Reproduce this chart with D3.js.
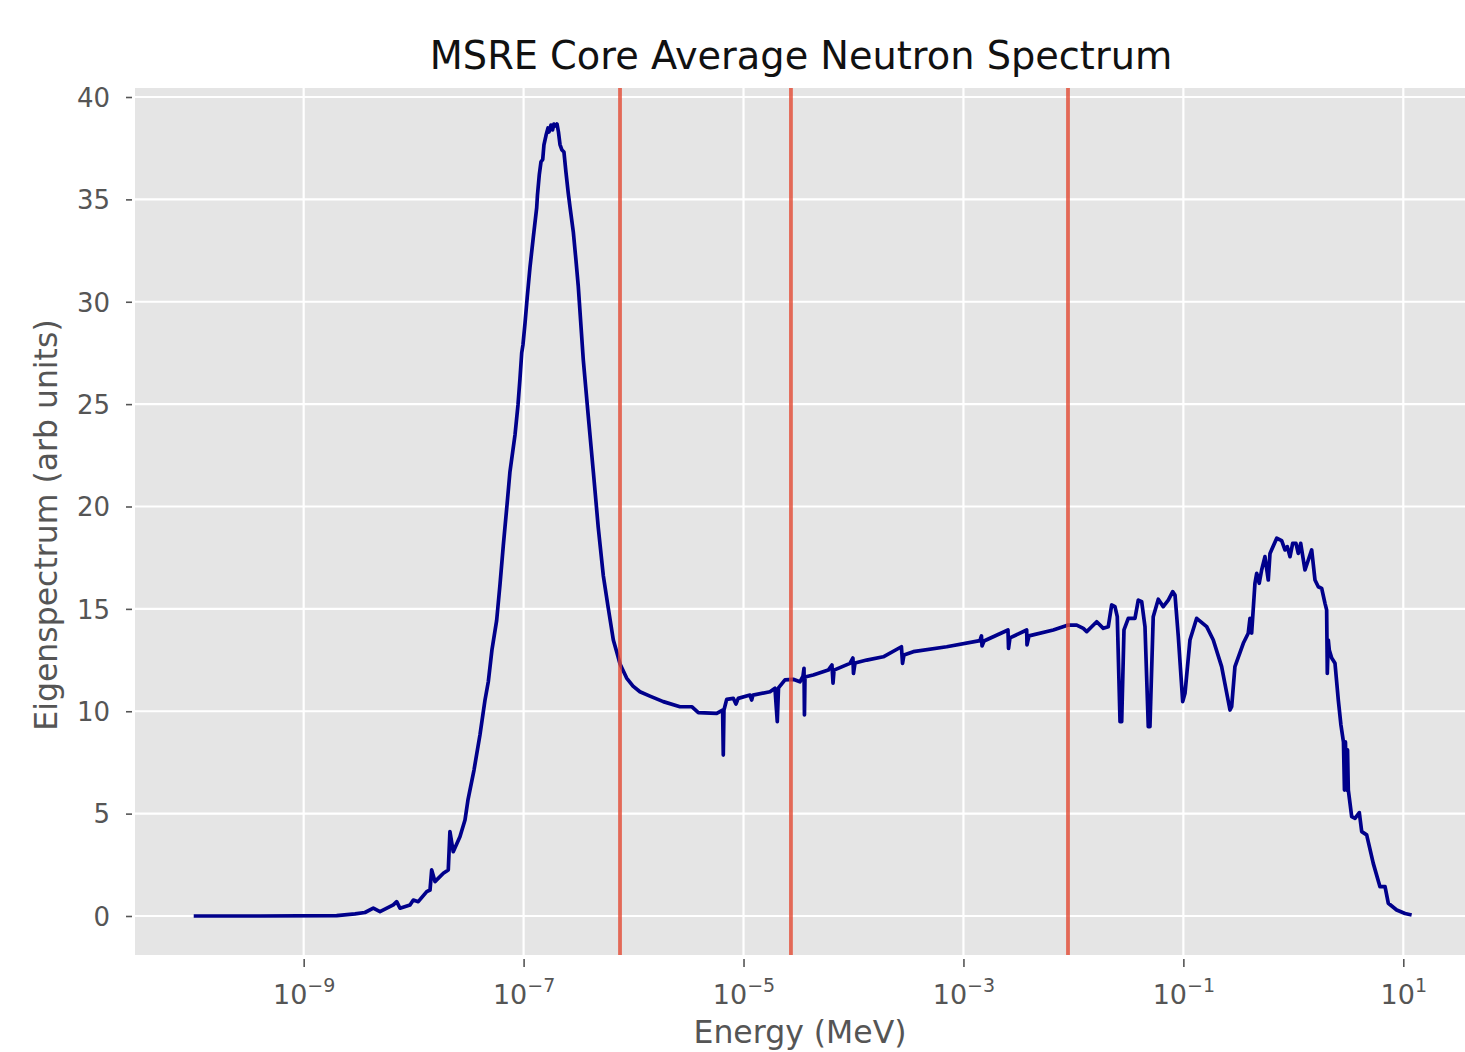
<!DOCTYPE html>
<html><head><meta charset="utf-8">
<script src="https://cdn.jsdelivr.net/npm/d3@7"></script>
<style>
html,body{margin:0;padding:0;background:#fff;}
svg{display:block;}
text{font-family:"DejaVu Sans",sans-serif;}
</style></head>
<body>
<svg id="chart" width="1465" height="1052"></svg>
<script>
// log10 of neutron energy (MeV)
const logEnergy = [
-10.000,-9.397,-8.700,-8.533,-8.443,-8.367,-8.306,-8.185,-8.154,-8.124,
-8.033,-8.003,-7.958,-7.881,-7.851,-7.836,-7.806,-7.730,-7.685,-7.670,
-7.640,-7.579,-7.533,-7.506,-7.451,-7.397,-7.351,-7.321,-7.288,-7.245,
-7.215,-7.185,-7.151,-7.124,-7.078,-7.051,-7.033,-7.017,-7.006,-6.987,
-6.967,-6.942,-6.912,-6.881,-6.874,-6.857,-6.842,-6.826,-6.815,-6.796,
-6.778,-6.769,-6.751,-6.737,-6.724,-6.706,-6.696,-6.683,-6.669,-6.651,
-6.633,-6.615,-6.594,-6.578,-6.548,-6.524,-6.503,-6.457,-6.412,-6.366,
-6.321,-6.275,-6.233,-6.184,-6.153,-6.123,-6.063,-6.005,-5.942,-5.851,
-5.730,-5.578,-5.471,-5.411,-5.244,-5.190,-5.184,-5.178,-5.153,-5.093,
-5.069,-5.048,-4.941,-4.926,-4.914,-4.759,-4.714,-4.693,-4.682,-4.623,
-4.548,-4.487,-4.459,-4.450,-4.446,-4.441,-4.366,-4.229,-4.196,-4.186,
-4.177,-4.032,-4.005,-4.000,-3.986,-3.880,-3.729,-3.564,-3.554,-3.541,
-3.456,-3.152,-2.850,-2.836,-2.831,-2.813,-2.595,-2.590,-2.577,-2.425,
-2.422,-2.404,-2.183,-2.047,-1.970,-1.910,-1.879,-1.834,-1.788,-1.728,
-1.683,-1.652,-1.622,-1.601,-1.576,-1.561,-1.540,-1.501,-1.440,-1.410,
-1.379,-1.349,-1.319,-1.304,-1.274,-1.228,-1.183,-1.137,-1.097,-1.076,
-1.046,-1.006,-0.985,-0.940,-0.879,-0.788,-0.728,-0.652,-0.576,-0.561,
-0.531,-0.455,-0.410,-0.394,-0.379,-0.349,-0.333,-0.310,-0.288,-0.258,
-0.228,-0.212,-0.151,-0.106,-0.076,-0.055,-0.030,-0.006,0.024,0.045,
0.067,0.106,0.167,0.197,0.227,0.258,0.288,0.303,0.309,0.318,
0.327,0.349,0.379,0.409,0.433,0.456,0.465,0.474,0.484,0.493,
0.500,0.531,0.561,0.600,0.622,0.667,0.727,0.788,0.834,0.864,
0.940,1.016,1.076
];
// eigenspectrum (arb units)
const spectrum = [
0.00,0.00,0.02,0.10,0.17,0.38,0.21,0.54,0.70,0.38,
0.54,0.78,0.70,1.19,1.27,2.25,1.68,2.09,2.25,4.12,
3.14,3.87,4.69,5.67,7.13,8.84,10.55,11.44,12.99,14.44,
16.17,18.07,20.07,21.70,23.51,24.96,26.24,27.51,27.89,28.96,
30.23,31.68,33.14,34.59,35.21,36.22,36.83,36.95,37.66,38.13,
38.49,38.29,38.63,38.39,38.68,38.58,38.68,38.29,37.68,37.41,
37.31,36.34,35.31,34.63,33.41,32.04,30.77,27.15,24.42,21.70,
18.97,16.62,15.14,13.48,12.89,12.31,11.62,11.23,10.95,10.74,
10.47,10.22,10.22,9.93,9.90,10.06,7.86,10.06,10.58,10.63,
10.35,10.63,10.79,10.55,10.79,10.95,11.12,9.49,11.14,11.53,
11.56,11.44,11.72,12.10,9.82,11.67,11.77,12.01,12.26,11.37,
12.01,12.34,12.60,11.85,12.36,12.50,12.66,13.15,12.34,12.75,
12.91,13.15,13.45,13.68,13.19,13.43,13.97,13.07,13.58,13.97,
13.24,13.68,13.97,14.21,14.21,14.05,13.89,14.13,14.37,14.05,
14.13,15.19,15.11,14.62,9.49,9.49,13.97,14.54,14.54,15.43,
15.35,14.13,9.25,9.25,14.62,15.47,15.11,15.43,15.84,15.68,
13.64,10.47,10.88,13.48,14.54,14.13,13.48,12.18,10.06,10.22,
12.18,13.32,13.81,14.54,13.82,16.25,16.74,16.25,16.90,17.55,
16.41,17.71,18.45,18.33,17.88,18.04,17.55,18.20,18.20,17.71,
18.20,16.90,17.88,16.41,16.08,16.00,15.27,14.95,11.85,13.48,
12.99,12.60,12.34,10.55,9.33,8.50,6.15,8.50,6.15,8.11,
6.15,4.85,4.77,5.05,4.12,3.96,2.57,1.43,1.43,0.62,
0.29,0.12,0.05
];
// energy-group boundaries (MeV), drawn as vertical lines
const groupBoundaries = [7.53e-7, 2.70e-5, 8.93e-3];
const yTicks = [0, 5, 10, 15, 20, 25, 30, 35, 40];
const xTickExponents = [-9, -7, -5, -3, -1, 1];
const xDomain = [10 ** -10.534, 10 ** 1.634];
const yDomain = [-1.905, 40.44];

const svg = d3.select("#chart");
const pLeft = 135, pTop = 88, pRight = 1473, pBottom = 955;

const x = d3.scaleLog().domain(xDomain).range([pLeft, pRight]);
const y = d3.scaleLinear().domain(yDomain).range([pBottom, pTop]);

svg.append("rect").attr("x", pLeft).attr("y", pTop)
  .attr("width", pRight - pLeft).attr("height", pBottom - pTop).attr("fill", "#E5E5E5");

// grid
const xTickVals = xTickExponents.map(e => 10 ** e);
svg.append("g").selectAll("line").data(xTickVals).join("line")
  .attr("x1", d => x(d)).attr("x2", d => x(d)).attr("y1", pTop).attr("y2", pBottom)
  .attr("stroke", "#fff").attr("stroke-width", 2.2);
svg.append("g").selectAll("line").data(yTicks).join("line")
  .attr("x1", pLeft).attr("x2", pRight).attr("y1", d => y(d)).attr("y2", d => y(d))
  .attr("stroke", "#fff").attr("stroke-width", 2.2);

// axes
const yAxis = svg.append("g").attr("transform", `translate(${pLeft - 3},0)`)
  .call(d3.axisLeft(y).tickValues(yTicks).tickSize(6).tickPadding(16).tickFormat(d3.format("d")));
yAxis.select(".domain").remove();
yAxis.selectAll("line").attr("stroke", "#555").attr("stroke-width", 1.6);
yAxis.selectAll("text").attr("fill", "#555").style("font-size", "26px")
  .style("font-family", "DejaVu Sans").attr("dy", "0.36em");

const xAxis = svg.append("g").attr("transform", `translate(0,${pBottom + 4})`)
  .call(d3.axisBottom(x).tickValues(xTickVals).tickSize(8).tickPadding(12).tickFormat(() => ""));
xAxis.select(".domain").remove();
xAxis.selectAll("line").attr("stroke", "#555").attr("stroke-width", 1.6);
xAxis.selectAll(".tick text").each(function(d) {
  const t = d3.select(this).attr("fill", "#555").style("font-size", "27px")
    .style("font-family", "DejaVu Sans").attr("dy", "0.92em").attr("text-anchor", "middle");
  const e = Math.round(Math.log10(d));
  t.append("tspan").text("10");
  t.append("tspan").text(e < 0 ? "\u2212" + (-e) : String(e))
    .style("font-size", "19px").attr("dy", "-0.62em");
});

// spectrum line
const pts = logEnergy.map((l, i) => [10 ** l, spectrum[i]]);
svg.append("path").datum(pts)
  .attr("fill", "none").attr("stroke", "#00008B").attr("stroke-width", 3.7)
  .attr("stroke-linejoin", "round")
  .attr("d", d3.line().x(d => x(d[0])).y(d => y(d[1])));

// group boundaries
svg.append("g").selectAll("line").data(groupBoundaries).join("line")
  .attr("x1", d => x(d)).attr("x2", d => x(d)).attr("y1", pTop).attr("y2", pBottom)
  .attr("stroke", "#E24A33").attr("stroke-opacity", 0.8).attr("stroke-width", 3.8);

// titles
svg.append("text").attr("x", 801).attr("y", 69).attr("text-anchor", "middle")
  .style("font-size", "38.3px").attr("fill", "#111").text("MSRE Core Average Neutron Spectrum");
svg.append("text").attr("x", 800).attr("y", 1043).attr("text-anchor", "middle")
  .style("font-size", "31.5px").attr("fill", "#555").text("Energy (MeV)");
svg.append("text").attr("transform", "translate(57,525) rotate(-90)").attr("text-anchor", "middle")
  .style("font-size", "31.5px").attr("fill", "#555").text("Eigenspectrum (arb units)");
</script>
</body></html>
